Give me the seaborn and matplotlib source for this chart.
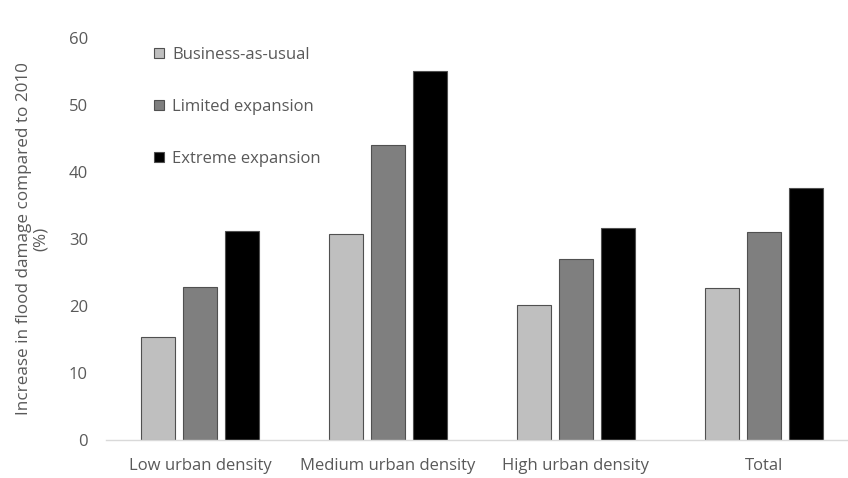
import matplotlib
matplotlib.use("Agg")
import matplotlib.pyplot as plt
import seaborn as sns
import pandas as pd

categories = ["Low urban density", "Medium urban density", "High urban density", "Total"]
series = ["Business-as-usual", "Limited expansion", "Extreme expansion"]
bau = [15.4, 30.7, 20.1, 22.7]
limited = [22.9, 44.0, 27.0, 31.1]
extreme = [31.2, 55.1, 31.6, 37.6]
colors = ["#BFBFBF", "#7F7F7F", "#000000"]
yticks = [0, 10, 20, 30, 40, 50, 60]

rows = []
for s, vals in zip(series, [bau, limited, extreme]):
    for c, v in zip(categories, vals):
        rows.append({"cat": c, "series": s, "value": v})
df = pd.DataFrame(rows)

sns.set_theme(style="white")
plt.rcParams["font.family"] = ["Open Sans", "DejaVu Sans"]
txt = "#595959"

fig = plt.figure(figsize=(8.48, 4.78), dpi=100)
ax = fig.add_axes([106 / 848, 38 / 478, 742 / 848, 402 / 478])
sns.barplot(data=df, x="cat", y="value", hue="series", order=categories,
            hue_order=series, palette=colors, width=0.67, gap=0.19,
            edgecolor="#505050", linewidth=0.8, ax=ax)

ax.set_xlim(-0.5, 3.447)
ax.set_ylim(0, 60)
ax.set_yticks(yticks)
ax.set_yticklabels([str(t) for t in yticks])
ax.tick_params(axis="both", length=0, labelsize=12, colors=txt)
ax.tick_params(axis="y", pad=13)
ax.tick_params(axis="x", pad=13)
ax.set_xlabel("")
ax.set_ylabel("Increase in flood damage compared to 2010\n(%)", fontsize=12.3,
              color=txt, linespacing=1.1)
ax.yaxis.set_label_coords(-0.077, 0.5)
for sp in ["top", "right", "left"]:
    ax.spines[sp].set_visible(False)
ax.spines["bottom"].set_color("#D9D9D9")
ax.spines["bottom"].set_linewidth(1.0)

handles, labels = ax.get_legend_handles_labels()
leg = ax.legend(handles, labels, loc="upper left", bbox_to_anchor=(0.045, 1.015),
                frameon=False, fontsize=12, labelspacing=2.15,
                handlelength=0.55, handleheight=0.55, handletextpad=0.5)
for t in leg.get_texts():
    t.set_color(txt)

fig.savefig("out.png", dpi=100)
